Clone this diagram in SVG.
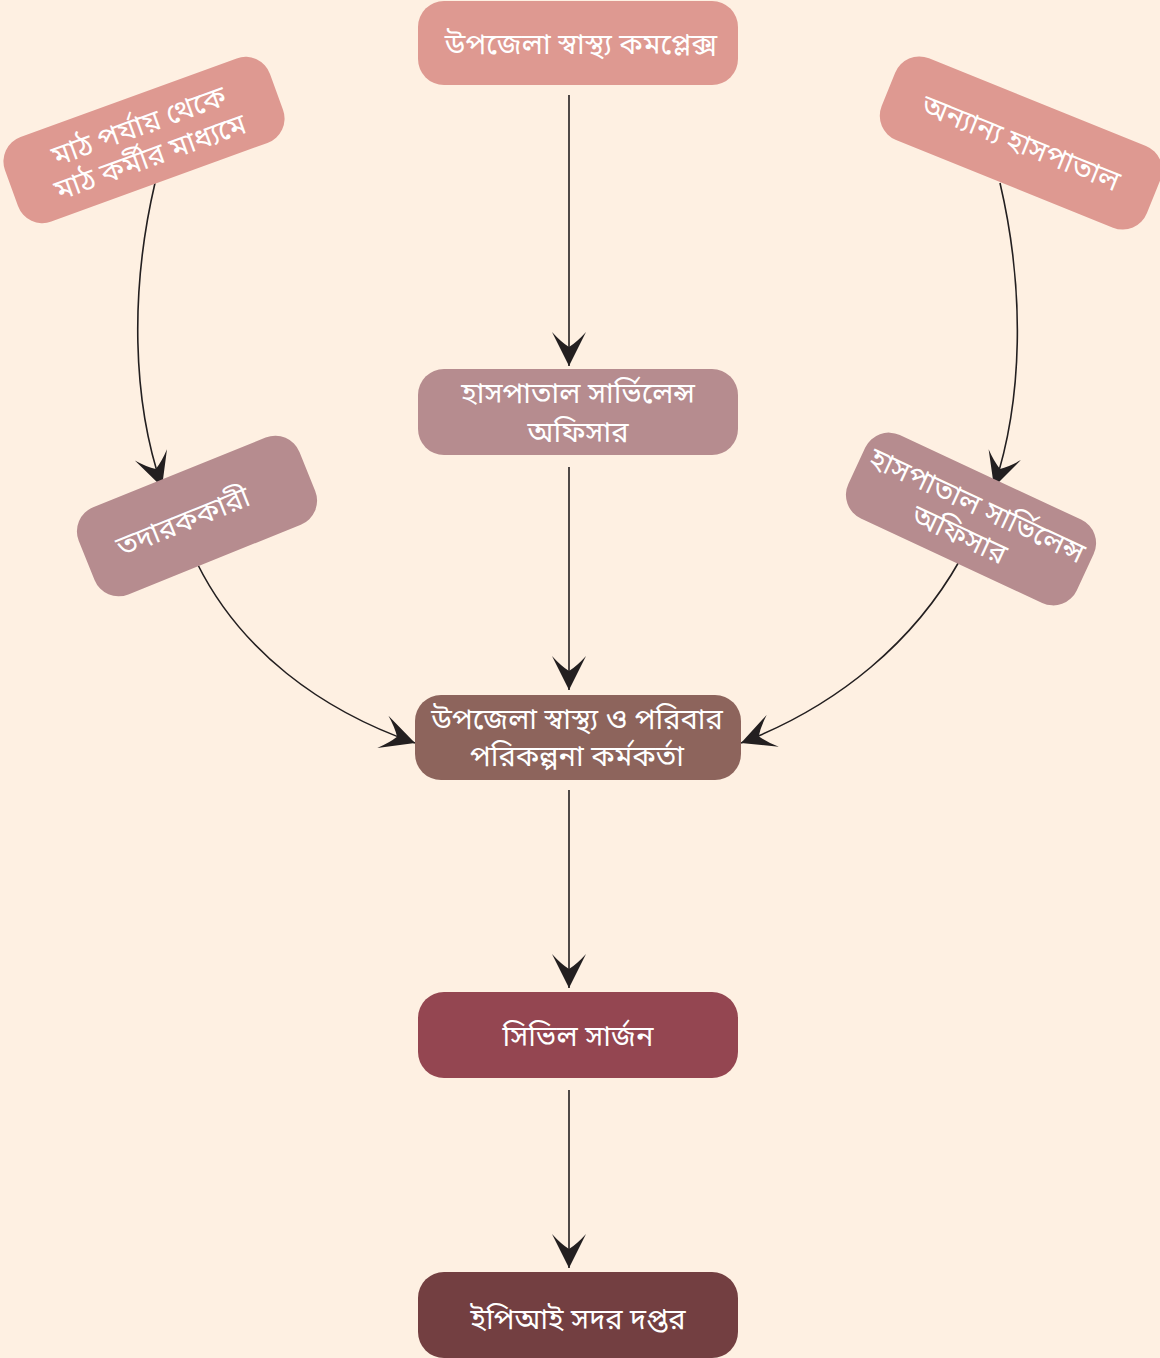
<svg xmlns="http://www.w3.org/2000/svg" width="1160" height="1358" viewBox="0 0 1160 1358">
<style>
.t{font-family:"Noto Sans Bengali","Noto Serif Bengali","Lohit Bengali","FreeSans","Noto Sans",sans-serif;font-size:29px;fill:#ffffff;text-anchor:middle}
.c{fill:none;stroke:#231F20;stroke-width:1.6}
.pink{fill:#DE9991}
.mauve{fill:#B68C8F}
.brown{fill:#8D645C}
.wine{fill:#944651}
.dark{fill:#733F41}
</style>
<defs>
<marker id="ah" markerUnits="userSpaceOnUse" markerWidth="40" markerHeight="40" viewBox="-36 -20 40 40" refX="0" refY="0" orient="auto">
<path d="M0,0 L-34,-17 Q-24,-8 -19,0 Q-24,8 -34,17 Z" fill="#231F20"/>
</marker>
</defs>
<rect width="1160" height="1358" fill="#FEF0E2"/>
<g id="connectors">
<path class="c" d="M569,95 L569,366" marker-end="url(#ah)"/>
<path class="c" d="M569,467 L569,690" marker-end="url(#ah)"/>
<path class="c" d="M569,790 L569,988" marker-end="url(#ah)"/>
<path class="c" d="M569,1090 L569,1268" marker-end="url(#ah)"/>
<path class="c" d="M155,183 C130,290 132,400 162,487" marker-end="url(#ah)"/>
<path class="c" d="M1000,183 C1025,290 1023,400 994,487" marker-end="url(#ah)"/>
<path class="c" d="M197,563 C240,650 320,710 415,743" marker-end="url(#ah)"/>
<path class="c" d="M960,560 C915,640 840,705 741,743" marker-end="url(#ah)"/>
</g>
<g id="n1"><rect class="pink" x="418" y="1" width="320" height="84" rx="26"/><text class="t" x="581" y="54">উপজেলা স্বাস্থ্য কমপ্লেক্স</text></g>
<g id="n2" transform="translate(144,140) rotate(-20)"><rect class="pink" x="-141" y="-45" width="282" height="90" rx="26"/><text class="t" x="0" y="-5">মাঠ পর্যায় থেকে</text><text class="t" x="0" y="28">মাঠ কর্মীর মাধ্যমে</text></g>
<g id="n3" transform="translate(1021,143) rotate(22)"><rect class="pink" x="-143" y="-44" width="286" height="88" rx="26"/><text class="t" x="0" y="10">অন্যান্য হাসপাতাল</text></g>
<g id="n4"><rect class="mauve" x="418" y="369" width="320" height="86" rx="26"/><text class="t" x="578" y="403">হাসপাতাল সার্ভিলেন্স</text><text class="t" x="578" y="442">অফিসার</text></g>
<g id="n5" transform="translate(197,516) rotate(-22)"><rect class="mauve" x="-119" y="-47" width="238" height="94" rx="26"/><text class="t" x="-15" y="10">তদারককারী</text></g>
<g id="n6" transform="translate(971,519) rotate(25)"><rect class="mauve" x="-126" y="-46" width="252" height="92" rx="26"/><text class="t" x="0" y="-5">হাসপাতাল সার্ভিলেন্স</text><text class="t" x="-4" y="29">অফিসার</text></g>
<g id="n7"><rect class="brown" x="415" y="695" width="326" height="85" rx="26"/><text class="t" x="577" y="729">উপজেলা স্বাস্থ্য ও পরিবার</text><text class="t" x="577" y="766">পরিকল্পনা কর্মকর্তা</text></g>
<g id="n8"><rect class="wine" x="418" y="992" width="320" height="86" rx="26"/><text class="t" x="578" y="1046">সিভিল সার্জন</text></g>
<g id="n9"><rect class="dark" x="418" y="1272" width="320" height="86" rx="26"/><text class="t" x="578" y="1329">ইপিআই সদর দপ্তর</text></g>
</svg>
